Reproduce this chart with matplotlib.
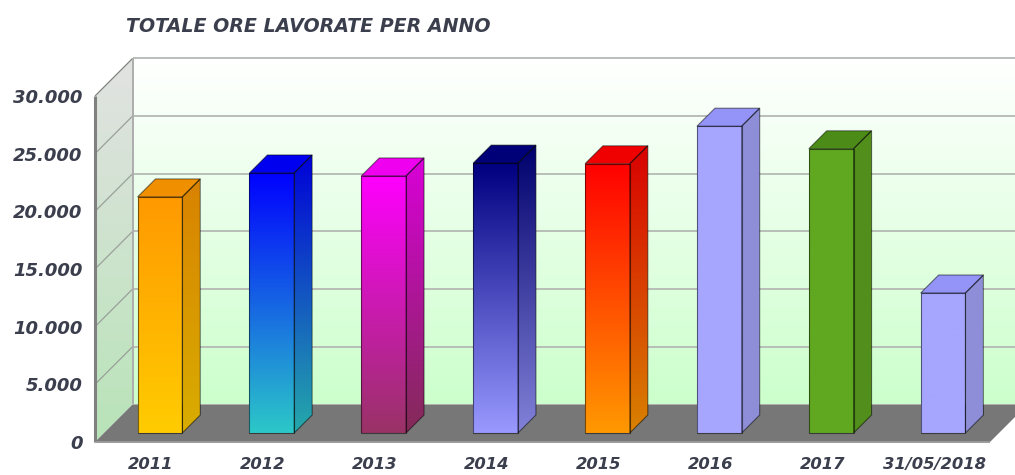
# totale ore lavorate per anno - fake 3d bar chart
import numpy as np
import matplotlib
matplotlib.use('Agg')
import matplotlib.pyplot as plt
from matplotlib.colors import LinearSegmentedColormap, to_rgb
from matplotlib.patches import Polygon
from matplotlib.transforms import IdentityTransform

categories = ['2011', '2012', '2013', '2014', '2015', '2016', '2017', '31/05/2018']
ore = [20470, 22550, 22290, 23400, 23350, 26600, 24650, 12140]
colore_base = ['#ffcc00', '#2cc8c8', '#993366', '#9999ff', '#ff9900', '#a6a6ff', '#60a820', '#a6a6ff']
colore_cima = ['#ff9900', '#0000ff', '#ff00ff', '#000080', '#ff0000', '#a6a6ff', '#60a820', '#a6a6ff']
colore_tetto = ['#f09000', '#0000f0', '#f000f0', '#000078', '#f00000', '#9494f8', '#4c8c18', '#9494f8']
y_ticks = [0, 5000, 10000, 15000, 20000, 25000, 30000]
y_labels = ['0', '5.000', '10.000', '15.000', '20.000', '25.000', '30.000']

W, H = 1015, 475
DEPTH = 37.6    # depth of the whole scene, px
BAR_NEAR = 9    # bars start this far behind the front plane
BAR_FAR = 27
BAR_W = 0.4
ID = IdentityTransform()

fig = plt.figure(figsize=(W / 100, H / 100), dpi=100, facecolor='white')
ax = fig.add_axes([95 / W, (H - 442) / H, 895 / W, 346 / H])
ax.set_xlim(-0.5, 7.5)
ax.set_ylim(0, 30000)
ax.set_autoscale_on(False)
ax.patch.set_visible(False)
for s in ax.spines.values():
    s.set_visible(False)


def pt(x, v, d=0):
    # data point pushed d px back into the scene, in display coords
    px = ax.transData.transform((x, v))
    return (px[0] + d, px[1] + d)


def shade(c, f):
    return tuple(np.array(to_rgb(c)) * f)


def face(pts, c_low, c_high, z, edge=None, lw=0.8):
    # polygon filled with a vertical gradient
    pts = np.array(pts)
    cmap = LinearSegmentedColormap.from_list('g', [c_low, c_high])
    grad = np.linspace(0, 1, 256).reshape(-1, 1)
    im = ax.imshow(grad, cmap=cmap, origin='lower', aspect='auto', transform=ID, zorder=z,
                   extent=[pts[:, 0].min(), pts[:, 0].max(), pts[:, 1].min(), pts[:, 1].max()])
    clip = Polygon(pts, closed=True, transform=ID, fc='none', ec='none')
    im.set_clip_box(fig.bbox)
    im.set_clip_path(clip)
    if edge is not None:
        ax.add_patch(Polygon(pts, closed=True, transform=ID, fc='none', ec=edge, lw=lw, zorder=z + 0.1, clip_on=False))


def line(a, b, c, lw, z):
    ax.plot([a[0], b[0]], [a[1], b[1]], color=c, lw=lw, transform=ID, zorder=z, clip_on=False, solid_capstyle='butt')


# walls and floor
face([pt(-0.5, 0, DEPTH), pt(7.5, 0, DEPTH), pt(7.5, 30000, DEPTH), pt(-0.5, 30000, DEPTH)], '#ccffcc', '#ffffff', 1)
face([pt(-0.5, 0), pt(-0.5, 0, DEPTH), pt(-0.5, 30000, DEPTH), pt(-0.5, 30000)], '#b8e4b8', '#e2e2e2', 1)
ax.add_patch(Polygon([pt(-0.5, 0), pt(7.5, 0), pt(7.5, 0, DEPTH), pt(-0.5, 0, DEPTH)], closed=True,
                     transform=ID, fc='#777777', ec='none', zorder=2, clip_on=False))

# grid
for t in y_ticks[1:]:
    line(pt(-0.5, t, DEPTH), pt(7.5, t, DEPTH), '#b4b9b4', 1.3, 1.5)
    line(pt(-0.5, t), pt(-0.5, t, DEPTH), '#80857f' if t == 30000 else '#9aa09a', 0.9, 1.5)
line(pt(-0.5, 0, DEPTH), pt(-0.5, 30000, DEPTH), '#adadad', 1.4, 1.6)
line(pt(-0.5, 0), pt(-0.5, 30000), '#808080', 2.2, 3)
line(pt(-0.5, 0), pt(7.5, 0), '#9a9a9a', 1.4, 3)

# bars
edge = (0, 0, 0, 0.5)
for i, v in enumerate(ore):
    x0, x1 = i - BAR_W / 2, i + BAR_W / 2
    low, high = colore_base[i], colore_cima[i]
    z = 5 + i
    face([pt(x0, 0, BAR_NEAR), pt(x1, 0, BAR_NEAR), pt(x1, v, BAR_NEAR), pt(x0, v, BAR_NEAR)], low, high, z, edge)
    face([pt(x1, 0, BAR_NEAR), pt(x1, 0, BAR_FAR), pt(x1, v, BAR_FAR), pt(x1, v, BAR_NEAR)],
         shade(low, 0.85), shade(high, 0.85), z, edge)
    face([pt(x0, v, BAR_NEAR), pt(x1, v, BAR_NEAR), pt(x1, v, BAR_FAR), pt(x0, v, BAR_FAR)],
         colore_tetto[i], colore_tetto[i], z, edge)

# labels
col_testo = '#3b3f4d'
ax.set_xticks(range(len(categories)), categories)
ax.set_yticks(y_ticks, y_labels)
ax.tick_params(axis='x', length=0, pad=11, labelsize=11.8, labelcolor=col_testo)
ax.tick_params(axis='y', length=0, pad=9, labelsize=13, labelcolor=col_testo)
for lab in ax.get_xticklabels() + ax.get_yticklabels():
    lab.set_fontweight('bold')
    lab.set_fontstyle('italic')
fig.text(126 / W, 1 - 27 / H, 'TOTALE ORE LAVORATE PER ANNO', fontsize=13.7, fontweight='bold',
         fontstyle='italic', color=col_testo, ha='left', va='center')

fig.savefig('out.png', dpi=100)
